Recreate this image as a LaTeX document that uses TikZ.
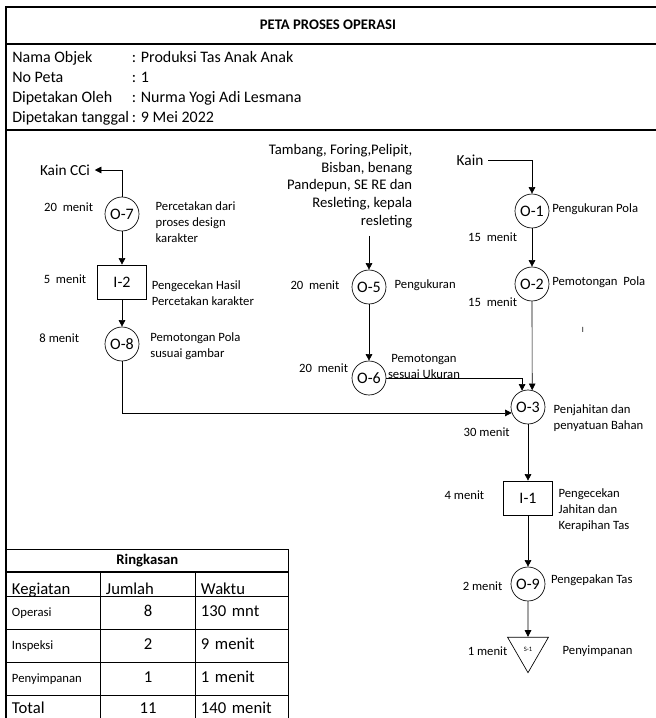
\documentclass[tikz,border=0pt]{standalone}
\usepackage{fontspec}
\setmainfont{Carlito}
\usepackage{tikz}
\usetikzlibrary{positioning,matrix,arrows.meta,shapes.geometric}
\tikzset{
proses/.style={circle,draw,minimum size=25.5pt,inner sep=0pt,font=\fontsize{12}{14}\selectfont},
periksa/.style={rectangle,draw,minimum width=36.75pt,minimum height=25.5pt,inner sep=0pt,font=\fontsize{12}{14}\selectfont},
simpan/.style={regular polygon,regular polygon sides=3,regular polygon rotate=180,draw,minimum size=35.5pt,inner sep=0pt,font=\fontsize{5}{6}\selectfont},
waktu/.style={inner sep=1pt,font=\fontsize{9.5}{12}\selectfont},
ket/.style={inner sep=1pt,align=left,font=\fontsize{9.5}{12}\selectfont},
teks/.style={font=\fontsize{11.5}{13.3}\selectfont},
pijl/.style={-{Triangle[length=5pt,width=5pt]}},
bingkai/.style={line width=0.9pt},
kecil/.style={font=\fontsize{9.5}{11}\selectfont},
data/.style={
  matrix of nodes,
  inner sep=0pt,
  row sep=0pt,
  column sep=2pt,
  nodes={anchor=base west,inner sep=0pt,text height=10pt,text depth=5pt,font=\fontsize{12}{14}\selectfont}
},
tabel/.style={
  matrix of nodes,
  inner sep=0pt,
  column sep=-\pgflinewidth,
  row sep=-\pgflinewidth,
  nodes={draw,inner xsep=4pt,inner ysep=1pt,text height=8pt,text depth=2.5pt,minimum height=24.75pt,font=\fontsize{12.5}{14}\selectfont},
  column 1/.style={nodes={text width=62.5pt,align=left}},
  column 2/.style={nodes={text width=63.25pt,align=center}},
  column 3/.style={nodes={text width=61.75pt,align=left}},
  row 1/.style={nodes={text height=15pt,text depth=1pt,minimum height=18pt}},
  row 5/.style={nodes={minimum height=21pt}}
}
}

\begin{document}
\begin{tikzpicture}[x=0.75pt,y=-0.75pt,line width=0.5pt]
  \useasboundingbox (0,0) rectangle (656,718);

  % kop
  \draw[bingkai] (656,7) -- (6,7) -- (6,718);
  \draw[bingkai] (6,44) -- (656,44);
  \draw[bingkai] (6,130) -- (656,130);
  \node[font=\bfseries\fontsize{11}{13}\selectfont] (judul) at (328,25) {PETA PROSES OPERASI};

  \matrix[data,anchor=north west] at (12,49)
  (info) {
    Nama Objek & : Produksi Tas Anak Anak \\
    No Peta & : 1 \\
    Dipetakan Oleh & : Nurma Yogi Adi Lesmana \\
    Dipetakan tanggal & : 9 Mei 2022 \\
  };

  % kolom kiri
  \node[proses] (o7) at (122,214) {O-7};
  \node[periksa] (i2) at (122,282) {I-2};
  \node[proses] (o8) at (122,344) {O-8};
  \node[teks] (kaincci) at (65,170) {Kain CCi};

  % kolom tengah
  \node[teks,font=\fontsize{11}{13.3}\selectfont,align=right,anchor=east] (bahan) at (417,186) {Tambang, Foring,Pelipit,\\Bisban, benang\\Pandepun, SE RE dan\\Resleting, kepala\\resleting};
  \node[proses] (o5) at (369,287) {O-5};
  \node[proses] (o6) at (369,378) {O-6};

  % kolom kanan
  \node[teks] (kain) at (470,160) {Kain};
  \node[proses] (o1) at (532,211) {O-1};
  \node[proses] (o2) at (532,284) {O-2};
  \node[proses] (o3) at (528,407) {O-3};
  \node[periksa] (i1) at (528,498) {I-1};
  \node[proses] (o9) at (528,584) {O-9};
  \node[simpan] (s1) at (528,649) {S-1};
  \node[font=\fontsize{6}{7}\selectfont] (coret) at (583,330) {I};

  \draw[pijl] (o7) |- (kaincci);
  \draw[pijl] (o7) -- (i2);
  \draw[pijl] (i2) -- (o8);
  \draw[pijl] (o8) |- (o3.200);
  \draw[pijl,shorten <=2.5pt] (bahan.south -| o5) -- (o5);
  \draw[pijl] (o5) -- (o6);
  \draw[pijl] (o6) -| (o3.110);
  \draw[pijl] (kain) -| (o1);
  \draw[pijl] (o1) -- (o2);
  \draw[pijl] (o2) -- (o3.76);
  \draw[pijl] (o3) -- (i1);
  \draw[pijl] (i1) -- (o9);
  \draw[pijl] (o9) -- (s1);

  % waktu dan keterangan
  \node[waktu,left=7.5pt of o7,yshift=5pt] (wo7) {20~ menit};
  \node[ket,right=11pt of o7,yshift=-6pt] (ko7) {Percetakan dari\\proses design\\karakter};
  \node[waktu,left=7pt of i2,yshift=2pt] (wi2) {5~ menit};
  \node[ket,right=2.5pt of i2,yshift=-8pt] (ki2) {Pengecekan Hasil\\Percetakan karakter};
  \node[waktu,left=18pt of o8,yshift=4pt] (wo8) {8 menit};
  \node[ket,right=7pt of o8,yshift=-2pt] (ko8) {Pemotongan Pola\\susuai gambar};
  \node[waktu,left=8pt of o5,yshift=1pt] (wo5) {20~ menit};
  \node[ket,right=5pt of o5,yshift=1pt] (ko5) {Pengukuran};
  \node[waktu,left=1.5pt of o6,yshift=7.5pt] (wo6) {20~ menit};
  \node[ket,align=center,right=0pt of o6,yshift=8.6pt] (ko6) {Pemotongan\\sesuai Ukuran};
  \node[ket,right=1pt of o1,yshift=1pt] (ko1) {Pengukuran Pola};
  \node[waktu,left=-3pt of o1,yshift=-19.5pt] (wo1) {15~ menit};
  \node[ket,right=1pt of o2,yshift=1pt] (ko2) {Pemotongan~ Pola};
  \node[waktu,left=-3pt of o2,yshift=-14pt] (wo2) {15~ menit};
  \node[ket,right=5pt of o3,yshift=-8pt] (ko3) {Penjahitan dan\\penyatuan Bahan};
  \node[waktu,left=-0.5pt of o3,yshift=-19pt] (wo3) {30 menit};
  \node[waktu,left=13pt of i1,yshift=2pt] (wi1) {4 menit};
  \node[ket,right=3pt of i1,yshift=-9pt] (ki1) {Pengecekan\\Jahitan dan\\Kerapihan Tas};
  \node[waktu,left=5pt of o9,yshift=-2pt] (wo9) {2 menit};
  \node[ket,right=3pt of o9,yshift=3pt] (ko9) {Pengepakan Tas};
  \node[waktu,anchor=east] (ws1) at (509,651) {1 menit};
  \node[ket,anchor=west] (ks1) at (561,651) {Penyimpanan};

  % ringkasan
  \matrix[tabel,anchor=north west] at (6,572)
  (ringkas) {
    Kegiatan & |[align=left]| Jumlah & Waktu \\
    |[kecil]| Operasi & 8 & 130 mnt \\
    |[kecil]| Inspeksi & 2 & 9 menit \\
    |[kecil]| Penyimpanan & 1 & 1 menit \\
    Total & 11 & 140 menit \\
  };
  \node[draw,anchor=south west,minimum width=211.5pt,minimum height=16.5pt,inner sep=0pt,font=\bfseries\fontsize{11}{13}\selectfont] (ringkasan) at (ringkas.north west) {Ringkasan};
\end{tikzpicture}
\end{document}
